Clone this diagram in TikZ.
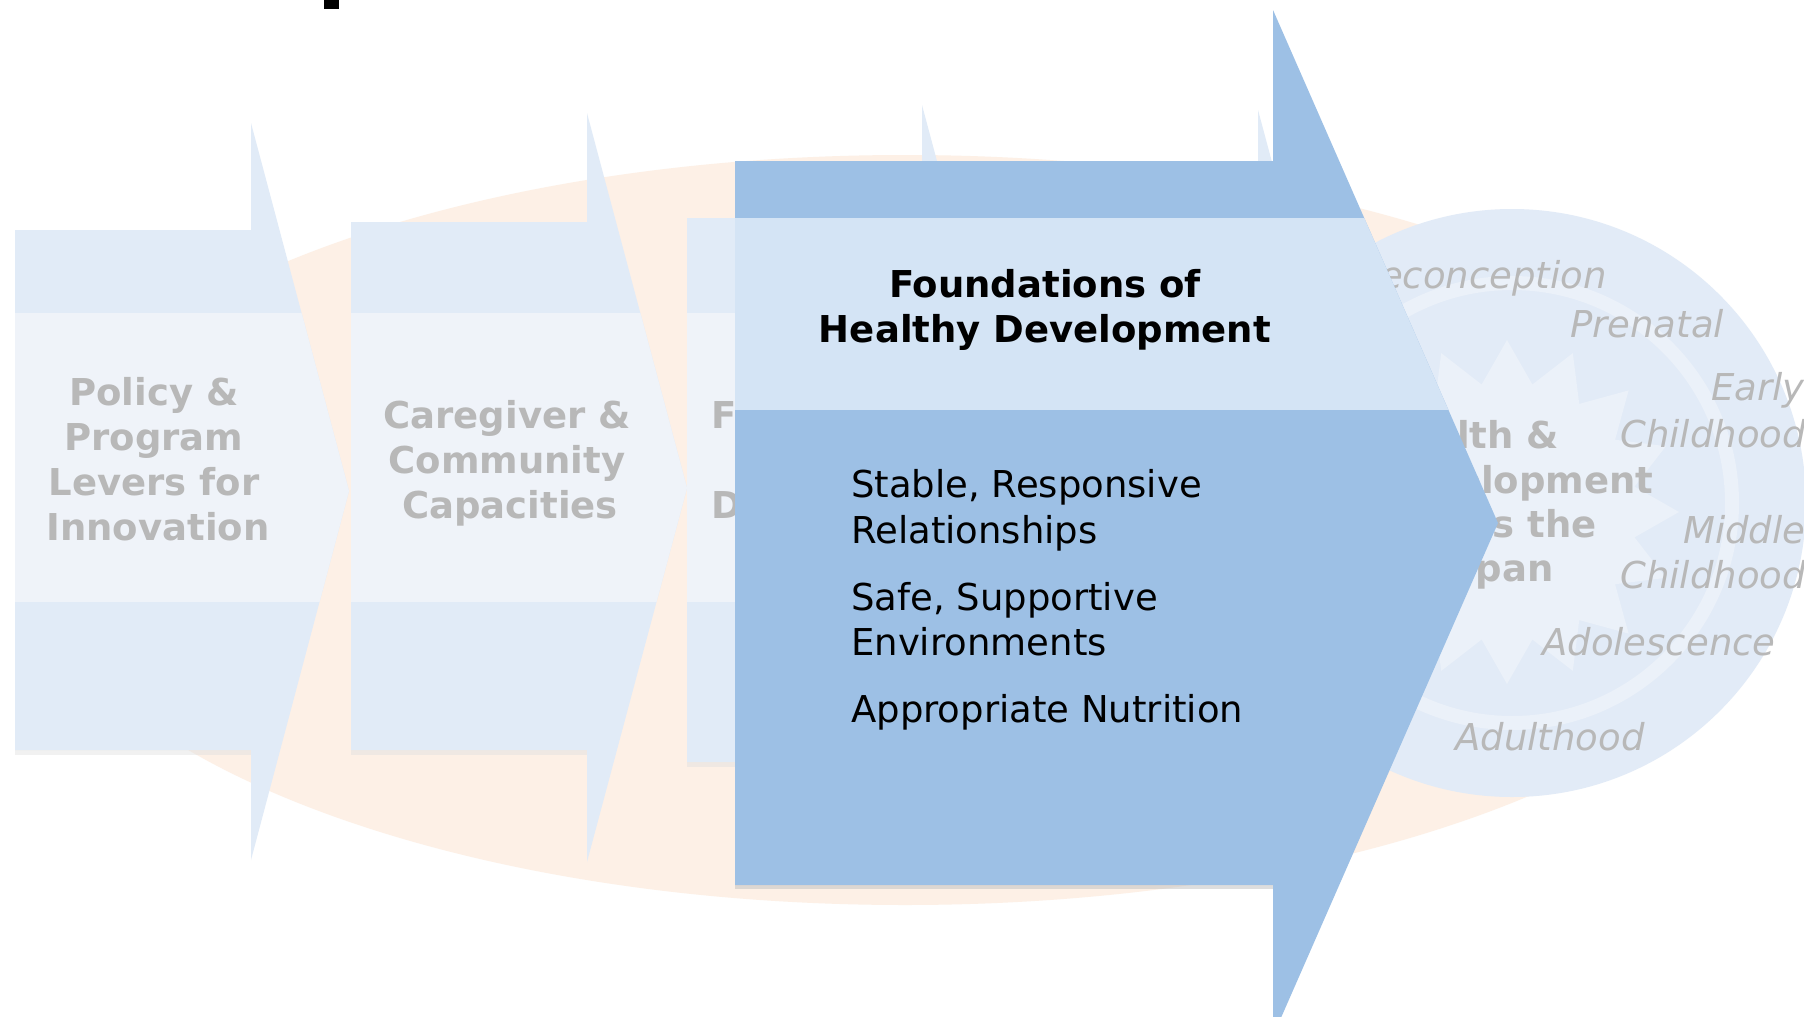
\documentclass[tikz,border=0pt]{standalone}
\usepackage{fontspec}
\setmainfont{DejaVu Sans}
\definecolor{ell}{HTML}{FDF0E6}
\definecolor{ghost}{HTML}{E1EBF7}
\definecolor{ghostband}{HTML}{EFF3F9}
\definecolor{mainc}{HTML}{9DC0E5}
\definecolor{mainband}{HTML}{D4E4F5}
\definecolor{gtext}{HTML}{B8B8B8}
\definecolor{disc}{HTML}{E2EBF7}
\definecolor{discl}{HTML}{EBF1F9}
\newcommand\garrow[8]{%
  \begin{scope}
    \path[clip] (#1,#2) -- (#4,#2) -- (#4,#5) -- (#7,#8) -- (#4,#6) -- (#4,#3) -- (#1,#3) -- cycle;
    \fill[ghost] (0,0) rectangle (1804,1017);
    \fill[ghostband] (0,313) rectangle (1804,602);
  \end{scope}
  \fill[black!12,opacity=.45] (#1,#3) rectangle (#4,#3+5);
}
\begin{document}
\begin{tikzpicture}[x=1pt,y=-1pt,
  gtxt/.style={text=gtext, font=\fontsize{37}{45}\selectfont\bfseries, inner sep=0pt},
  itxt/.style={text=gtext, font=\fontsize{37}{45}\selectfont\itshape, inner sep=0pt},
  ttxt/.style={text=black, font=\fontsize{37}{45}\selectfont\bfseries, inner sep=0pt},
  ntxt/.style={text=black, font=\fontsize{37}{45}\selectfont, inner sep=0pt}]
\useasboundingbox[fill=white] (0,0) rectangle (1804,1017);
% background ellipse
\fill[ell] (905,530) ellipse [x radius=885pt, y radius=375pt];
% circle logo
\fill[disc] (1512,503) circle [radius=294pt];
\draw[discl, line width=14pt] (1512,503) circle [radius=220pt];
\fill[discl] plot[samples at={0,...,31}, variable=\k]
  ({1507+(172-42*mod(\k,2))*cos(90+\k*11.25)}, {512-(172-42*mod(\k,2))*sin(90+\k*11.25)}) -- cycle;
% ghost arrows
\garrow{15}{230}{750}{251}{123}{860}{349}{491}
\garrow{351}{222}{750}{587}{113}{862}{687}{488}
\garrow{687}{218}{762}{922}{105}{875}{1025}{490}
\garrow{1030}{215}{765}{1258}{110}{870}{1360}{490}
% ghost texts
\node[gtxt, anchor=base] (g1a) at (154,405) {Policy \&};
\node[gtxt, anchor=base] (g1b) at (154,450) {Program};
\node[gtxt, anchor=base] (g1c) at (154,495) {Levers for};
\node[gtxt, anchor=base] (g1d) at (158,540) {Innovation};
\node[gtxt, anchor=base] (g2a) at (507,428) {Caregiver \&};
\node[gtxt, anchor=base] (g2b) at (507,473) {Community};
\node[gtxt, anchor=base] (g2c) at (510,518) {Capacities};
\node[gtxt, anchor=base west] (g3a) at (711,428) {F};
\node[gtxt, anchor=base west] (g3b) at (711,518) {D};
% circle texts
\node[gtxt, anchor=base west] (c1) at (1376,448) {Health \&};
\node[gtxt, anchor=base west] (c2) at (1376,493) {Development};
\node[gtxt, anchor=base west] (c3) at (1376,537) {Across the};
\node[gtxt, anchor=base west] (c4) at (1376,581) {Lifespan};
\node[itxt, anchor=base east] (s1) at (1607,288) {Preconception};
\node[itxt, anchor=base west] (s2) at (1570,337) {Prenatal};
\node[itxt, anchor=base west] (s3) at (1711,400) {Early};
\node[itxt, anchor=base west] (s4) at (1620,447) {Childhood};
\node[itxt, anchor=base west] (s5) at (1683,543) {Middle};
\node[itxt, anchor=base west] (s6) at (1620,588) {Childhood};
\node[itxt, anchor=base west] (s7) at (1542,655) {Adolescence};
\node[itxt, anchor=base west] (s8) at (1455,750) {Adulthood};
% main arrow
\begin{scope}
  \path[clip] (735,161) -- (1273,161) -- (1273,10) -- (1498,523) -- (1273,1036) -- (1273,885) -- (735,885) -- cycle;
  \fill[mainc] (0,0) rectangle (1804,1040);
  \fill[mainband] (0,218) rectangle (1804,410);
\end{scope}
\fill[black!25,opacity=.5] (735,885) rectangle (1273,889);
% main texts
\node[ttxt, anchor=base] (t1) at (1045,297) {Foundations of};
\node[ttxt, anchor=base] (t2) at (1045,342) {Healthy Development};
\node[ntxt, anchor=base west] (i1) at (851,497) {Stable, Responsive};
\node[ntxt, anchor=base west] (i2) at (851,543) {Relationships};
\node[ntxt, anchor=base west] (i3) at (851,610) {Safe, Supportive};
\node[ntxt, anchor=base west] (i4) at (851,655) {Environments};
\node[ntxt, anchor=base west] (i5) at (851,722) {Appropriate Nutrition};
% fragment of cut-off title glyph
\fill[black] (324,0) rectangle (339,9);
\end{tikzpicture}
\end{document}
